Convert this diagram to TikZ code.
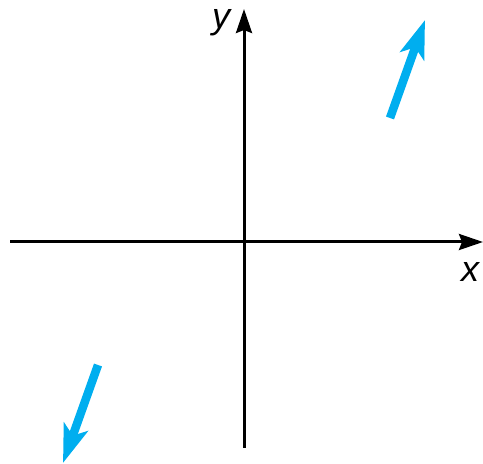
\documentclass[tikz,border=0pt]{standalone}
\usepackage{fontspec}
\setmainfont{Liberation Sans}
\usetikzlibrary{arrows.meta}
\definecolor{vecblue}{RGB}{0,174,239}
\begin{document}
\begin{tikzpicture}[x=1pt,y=1pt,
  axis/.style={line width=3pt,-{Stealth[length=24pt,width=16pt,inset=3pt]}},
  vec/.style={vecblue,line width=8.5pt,-{Stealth[length=38pt,width=25pt,inset=9pt]}},
  lab/.style={font=\fontsize{36}{36}\selectfont\itshape,inner sep=0pt}]
\useasboundingbox (0,0) rectangle (483,464);
\coordinate (xl) at (10,222);
\coordinate (xr) at (483,222);
\coordinate (yb) at (244,16);
\coordinate (yt) at (244,455);
\draw[axis] (xl) -- (xr);
\draw[axis] (yb) -- (yt);
\node[lab] (ylab) at (221,441) {y};
\node[lab] (xlab) at (470,192) {x};
\coordinate (a1s) at (390,346);
\coordinate (a1e) at (425,444);
\coordinate (a2s) at (98,99);
\coordinate (a2e) at (63,1);
\draw[vec] (a1s) -- (a1e);
\draw[vec] (a2s) -- (a2e);
\end{tikzpicture}
\end{document}
